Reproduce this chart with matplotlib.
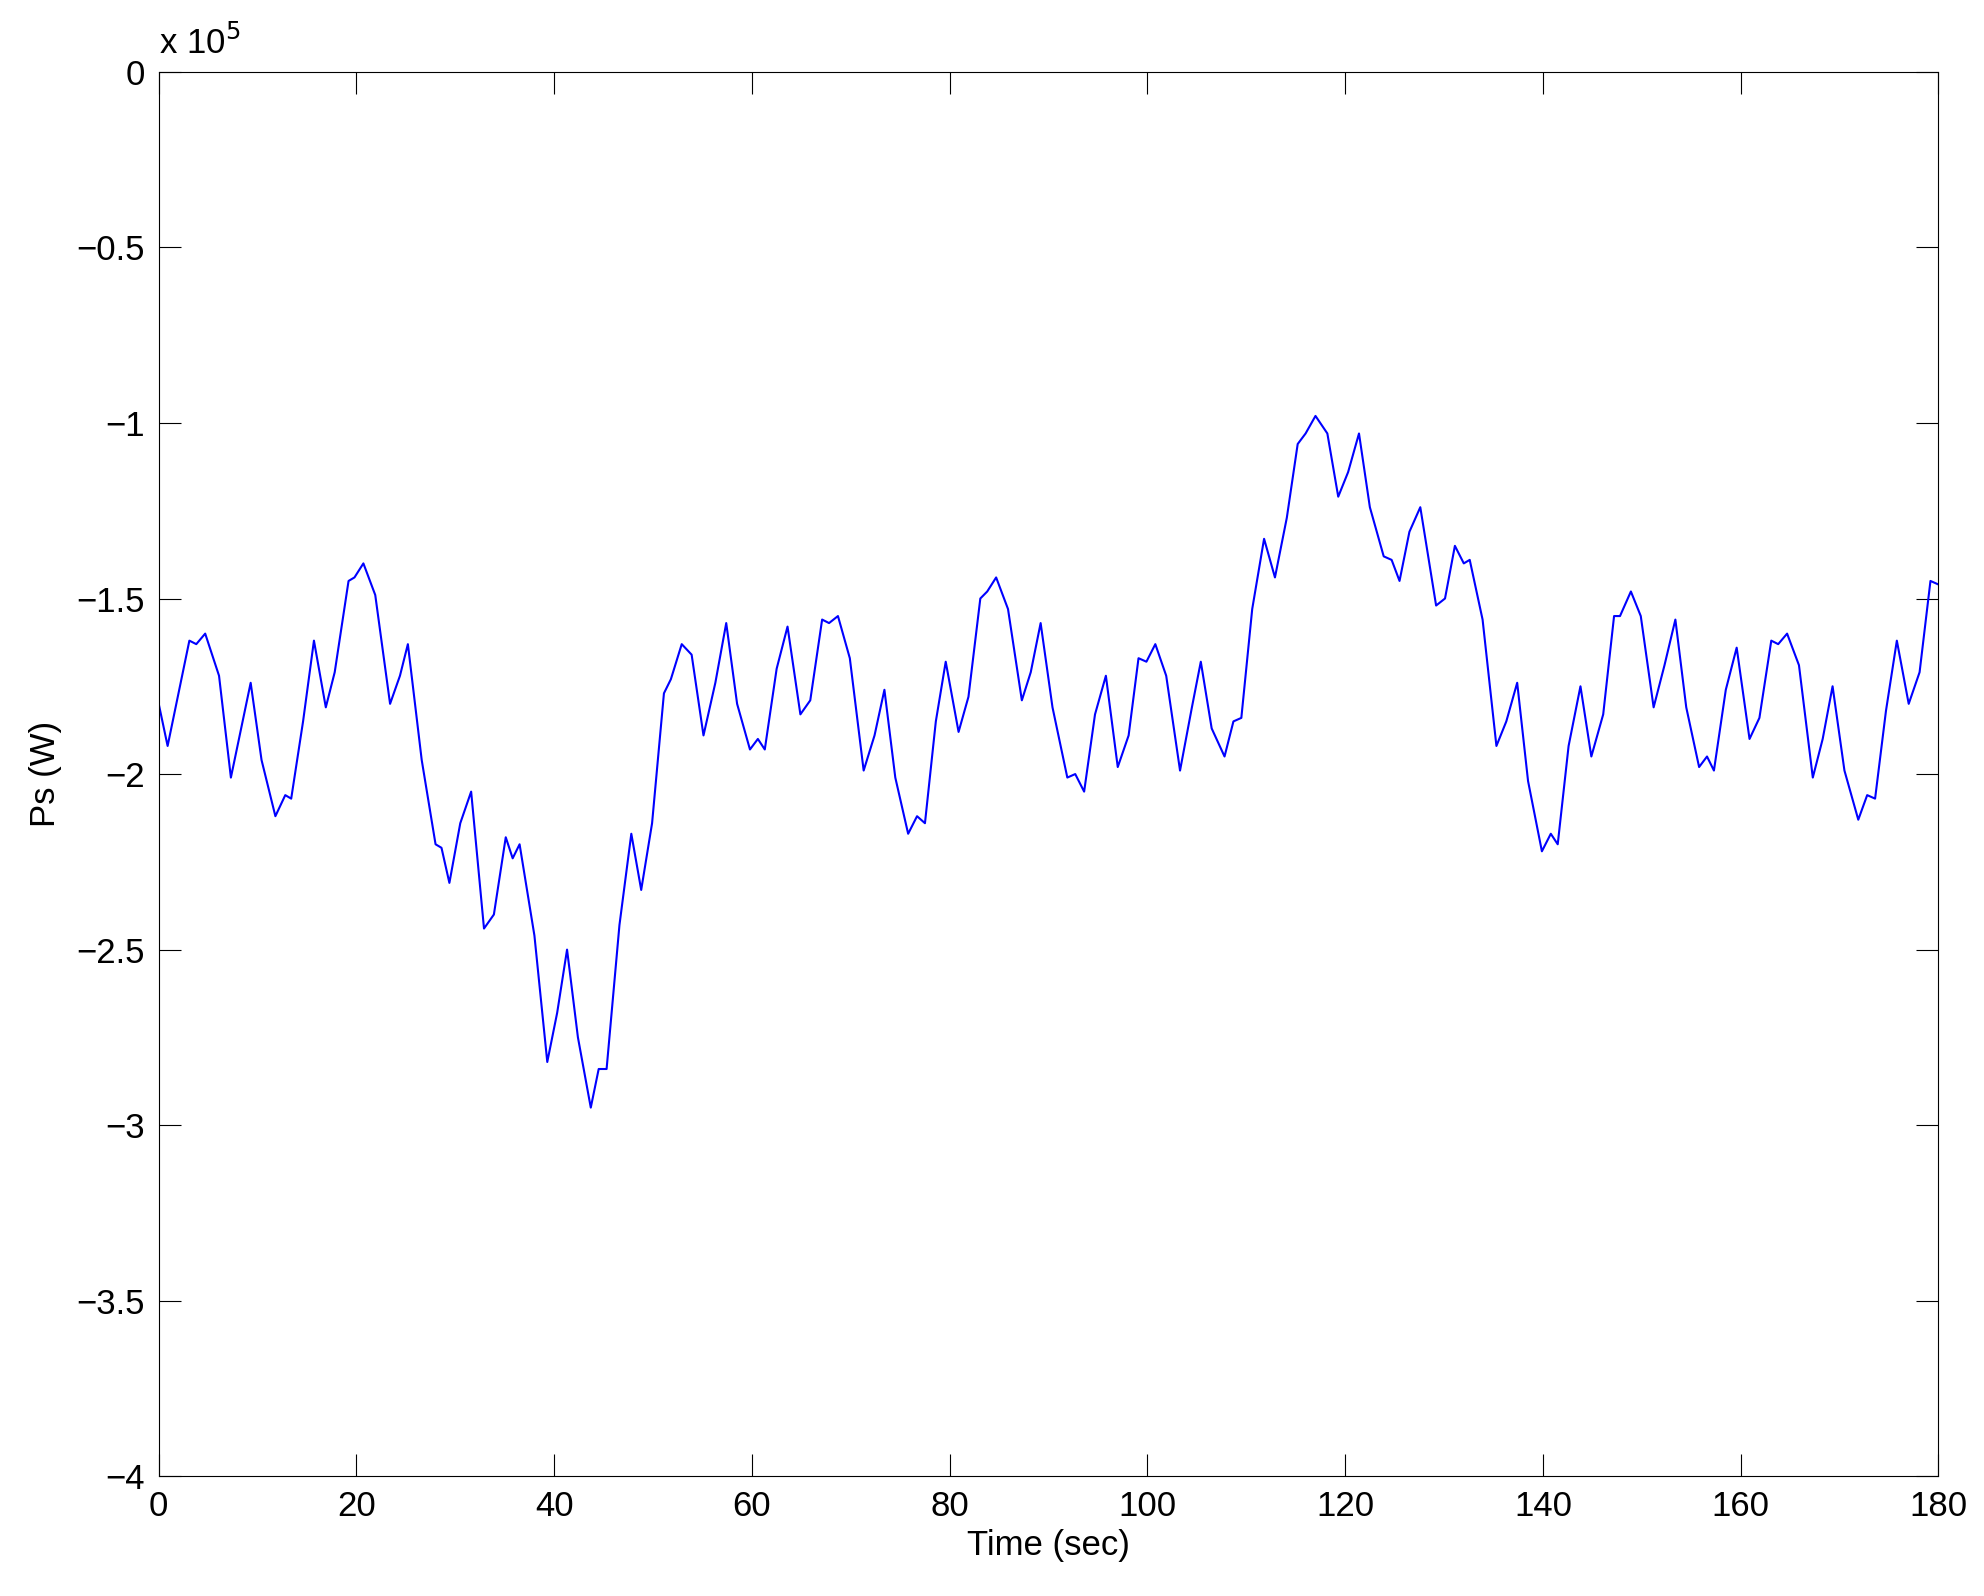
import matplotlib
matplotlib.use("Agg")
import matplotlib.pyplot as plt

plt.rcParams['font.family'] = ['Liberation Sans', 'DejaVu Sans']

time_s = [0,0.9,3.1,3.8,4.7,6.1,7.3,9.3,10.4,11.8,12.8,13.4,14.6,15.7,16.9,17.8,19.2,19.8,20.7,21.9,
          23.4,24.4,25.2,26.6,28.0,28.6,29.4,30.5,31.6,32.9,33.9,35.1,35.8,36.5,38.0,39.3,40.3,41.3,42.4,43.7,
          44.5,45.3,46.6,47.8,48.8,49.9,51.1,51.8,52.9,53.9,55.1,56.3,57.4,58.5,59.8,60.6,61.3,62.5,63.6,64.9,
          65.9,67.1,67.8,68.7,69.9,71.3,72.4,73.4,74.5,75.8,76.7,77.5,78.6,79.6,80.9,81.9,83.1,83.8,84.7,85.9,
          87.3,88.2,89.2,90.4,91.9,92.7,93.6,94.7,95.8,97.0,98.1,99.1,99.9,100.8,101.9,103.3,104.5,105.4,106.5,107.8,
          108.7,109.5,110.6,111.8,112.9,114.1,115.2,116.0,117.0,118.2,119.3,120.3,121.4,122.5,123.9,124.7,125.5,126.5,127.6,129.2,
          130.1,131.1,132.0,132.6,133.9,135.3,136.3,137.4,138.5,139.9,140.8,141.5,142.6,143.8,144.9,146.1,147.2,147.8,148.9,149.9,
          151.2,152.3,153.4,154.5,155.8,156.6,157.3,158.5,159.6,160.9,161.9,163.1,163.8,164.7,165.9,167.3,168.3,169.3,170.5,171.9,
          172.8,173.6,174.7,175.8,177.0,178.1,179.2,180]
ps_e5 = [-1.80,-1.92,-1.62,-1.63,-1.60,-1.72,-2.01,-1.74,-1.96,-2.12,-2.06,-2.07,-1.85,-1.62,-1.81,-1.71,-1.45,-1.44,-1.40,-1.49,
         -1.80,-1.72,-1.63,-1.96,-2.20,-2.21,-2.31,-2.14,-2.05,-2.44,-2.40,-2.18,-2.24,-2.20,-2.46,-2.82,-2.68,-2.50,-2.75,-2.95,
         -2.84,-2.84,-2.43,-2.17,-2.33,-2.14,-1.77,-1.73,-1.63,-1.66,-1.89,-1.74,-1.57,-1.80,-1.93,-1.90,-1.93,-1.70,-1.58,-1.83,
         -1.79,-1.56,-1.57,-1.55,-1.67,-1.99,-1.89,-1.76,-2.01,-2.17,-2.12,-2.14,-1.85,-1.68,-1.88,-1.78,-1.50,-1.48,-1.44,-1.53,
         -1.79,-1.71,-1.57,-1.81,-2.01,-2.00,-2.05,-1.83,-1.72,-1.98,-1.89,-1.67,-1.68,-1.63,-1.72,-1.99,-1.81,-1.68,-1.87,-1.95,
         -1.85,-1.84,-1.53,-1.33,-1.44,-1.27,-1.06,-1.03,-0.98,-1.03,-1.21,-1.14,-1.03,-1.24,-1.38,-1.39,-1.45,-1.31,-1.24,-1.52,
         -1.50,-1.35,-1.40,-1.39,-1.56,-1.92,-1.85,-1.74,-2.02,-2.22,-2.17,-2.20,-1.92,-1.75,-1.95,-1.83,-1.55,-1.55,-1.48,-1.55,
         -1.81,-1.69,-1.56,-1.81,-1.98,-1.95,-1.99,-1.76,-1.64,-1.90,-1.84,-1.62,-1.63,-1.60,-1.69,-2.01,-1.90,-1.75,-1.99,-2.13,
         -2.06,-2.07,-1.82,-1.62,-1.80,-1.71,-1.45,-1.46]

xticks = [0,20,40,60,80,100,120,140,160,180]
yticks = [0,-0.5,-1,-1.5,-2,-2.5,-3,-3.5,-4]

fig = plt.figure(figsize=(19.84,15.96), dpi=100)
ax = fig.add_axes([0.080,0.075,0.897,0.880])
ax.plot(time_s, ps_e5, color='#0000ff', lw=1.5)
ax.set_xlim(0,180); ax.set_ylim(-4,0)
ax.set_xticks(xticks); ax.set_yticks(yticks)
ax.set_yticklabels(['0' if v==0 else ('\u2212'+('%g'%abs(v))) for v in yticks])
ax.tick_params(direction='in', labelsize=25, length=16, top=True, right=True, pad=10)
ax.set_xlabel('Time (sec)', fontsize=25, labelpad=4)
ax.set_ylabel('Ps (W)', fontsize=25, labelpad=10)
ax.text(0, 1.008, r'x 10$^{5}$', transform=ax.transAxes, fontsize=25, ha='left', va='bottom')
fig.savefig('out.png', dpi=100)
